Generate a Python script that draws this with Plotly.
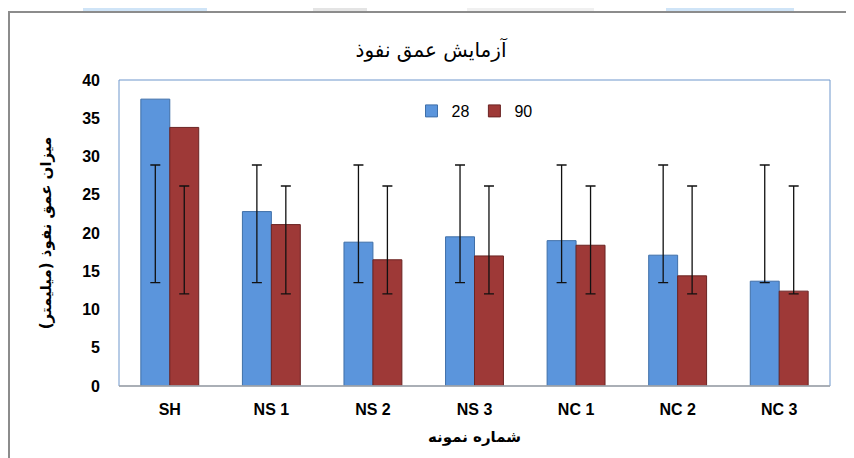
import numpy as np
import plotly.graph_objects as go

categories = ["SH", "NS 1", "NS 2", "NS 3", "NC 1", "NC 2", "NC 3"]
series_names = ["28", "90"]
values_28 = [37.5, 22.8, 18.8, 19.5, 19.0, 17.1, 13.7]
values_90 = [33.8, 21.1, 16.5, 17.0, 18.4, 14.4, 12.4]
y_ticks = [0, 5, 10, 15, 20, 25, 30, 35, 40]

title_text = "آزمایش عمق نفوذ"
y_title = "میزان عمق نفوذ (میلیمتر)"
x_title = "شماره نمونه"

fills = ["#5B95DC", "#9E3937"]
edges = ["#3F6FA8", "#6B2423"]

fig = go.Figure()
for name, vals, fc, ec in zip(series_names, [values_28, values_90], fills, edges):
    fig.add_trace(go.Bar(
        x=categories, y=vals, name=name, offsetgroup=name,
        marker=dict(color=fc, line=dict(color=ec, width=1)),
    ))
# Excel-style standard-deviation error bars (centred on series mean)
for name, vals in zip(series_names, [values_28, values_90]):
    arr = np.array(vals)
    mean = float(arr.mean())
    sd = float(arr.std(ddof=1))
    fig.add_trace(go.Bar(
        x=categories, y=[mean] * len(categories), offsetgroup=name,
        showlegend=False, hoverinfo="skip",
        marker=dict(color="rgba(0,0,0,0)", line=dict(width=0)),
        error_y=dict(type="data", array=[sd] * len(categories), symmetric=True,
                     color="#111111", thickness=1.3, width=5),
    ))

OFF = 8  # page body margin
L, R, T, B = 111, 24, 72, 72
W, H = 846, 450
pw, ph = W - L - R, H - T - B

def px_x(p):
    return (p - OFF - L) / pw

def px_y(p):
    return (H + OFF - B - p) / ph

frame_col = "#8C8C8C"
shapes = [
    dict(type="rect", xref="paper", yref="paper", x0=px_x(83), x1=px_x(207), y0=px_y(11), y1=px_y(0),
         fillcolor="#CFE4F7", line=dict(width=0), layer="below"),
    dict(type="rect", xref="paper", yref="paper", x0=px_x(313), x1=px_x(367), y0=px_y(11), y1=px_y(0),
         fillcolor="#E4E4E4", line=dict(width=0), layer="below"),
    dict(type="rect", xref="paper", yref="paper", x0=px_x(467), x1=px_x(594), y0=px_y(11), y1=px_y(0),
         fillcolor="#F0F0F0", line=dict(width=0), layer="below"),
    dict(type="rect", xref="paper", yref="paper", x0=px_x(666), x1=px_x(794), y0=px_y(11), y1=px_y(0),
         fillcolor="#CFE4F7", line=dict(width=0), layer="below"),
    # outer frame: top and left edges
    dict(type="line", xref="paper", yref="paper", x0=px_x(8), x1=px_x(854), y0=px_y(12), y1=px_y(12),
         line=dict(color=frame_col, width=2)),
    dict(type="line", xref="paper", yref="paper", x0=px_x(9), x1=px_x(9), y0=px_y(12), y1=px_y(458),
         line=dict(color=frame_col, width=2)),
    # plot area border
    dict(type="rect", xref="paper", yref="paper", x0=0, x1=1, y0=0, y1=1,
         line=dict(color="#6F97CC", width=1), fillcolor="rgba(0,0,0,0)"),
    dict(type="line", xref="paper", yref="paper", x0=0, x1=1, y0=0, y1=0,
         line=dict(color="#A6A6A6", width=1.5)),
]

fig.update_layout(
    width=W, height=H, autosize=False,
    margin=dict(l=L, r=R, t=T, b=B, autoexpand=False),
    paper_bgcolor="white", plot_bgcolor="white",
    barmode="group", bargap=0.43, bargroupgap=0,
    title=dict(text=title_text, x=0.5, xanchor="center", y=1 - (50 - OFF) / H, yanchor="middle",
               font=dict(family="DejaVu Sans", size=20, color="#000000"), automargin=False),
    legend=dict(orientation="h", x=0.5, xanchor="center", y=px_y(111), yanchor="middle",
                font=dict(family="Liberation Sans", size=16, color="#000000"),
                bgcolor="rgba(0,0,0,0)", itemwidth=30, traceorder="normal"),
    shapes=shapes,
    xaxis=dict(
        automargin=False,
        showgrid=False, zeroline=False, showline=False, ticks="",
        tickfont=dict(family="Liberation Sans", size=16, color="#000000", weight="bold"),
        ticklabelstandoff=12,
        title=dict(text=x_title, standoff=14,
                   font=dict(family="DejaVu Sans", size=15, color="#000000", weight="bold")),
    ),
    yaxis=dict(
        automargin=False,
        range=[0, 40], tickvals=y_ticks, showgrid=False, zeroline=False, showline=False, ticks="",
        tickfont=dict(family="Liberation Sans", size=16, color="#000000", weight="bold"),
        ticklabelstandoff=18,
        title=dict(text=y_title, standoff=26,
                   font=dict(family="DejaVu Sans", size=15, color="#000000", weight="bold")),
    ),
)

fig.write_html("out.html")
